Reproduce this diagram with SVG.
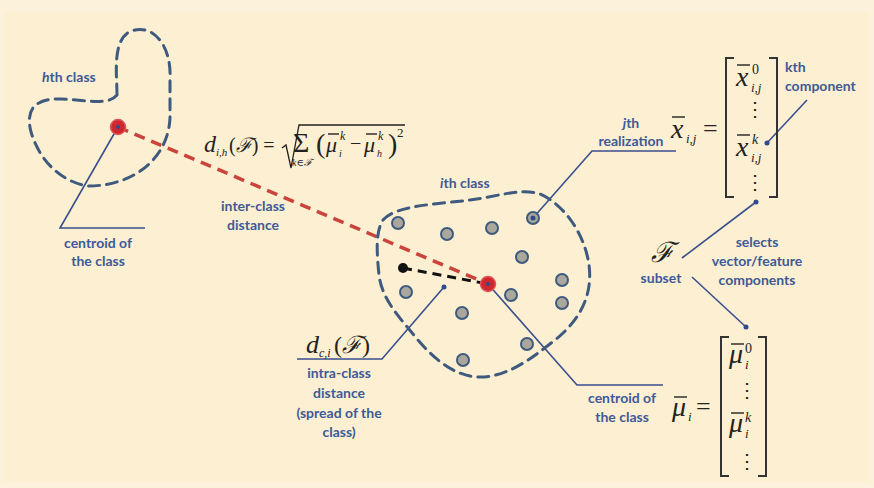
<svg xmlns="http://www.w3.org/2000/svg" width="874" height="488" viewBox="0 0 874 488">
<defs>
<style>
.lbl{font-family:Lato,"Open Sans","Liberation Sans",sans-serif;font-weight:700;font-size:14px;fill:#3d5a98;text-anchor:middle}
.lbll{font-family:Lato,"Open Sans","Liberation Sans",sans-serif;font-weight:700;font-size:14px;fill:#3d5a98}
.m{font-family:'Liberation Serif','DejaVu Serif',serif;fill:#222}
.mi{font-family:'Liberation Serif','DejaVu Serif',serif;font-style:italic;fill:#222}
.cal{font-family:'DejaVu Serif','Liberation Serif',serif;font-style:italic;fill:#222}
.outline{fill:none;stroke:#3e5a7e;stroke-width:3;stroke-dasharray:11 7;stroke-linecap:round}
.lead{fill:none;stroke:#3a4f8e;stroke-width:1.6}
.pt{fill:#aaa89c;stroke:#3e5a7e;stroke-width:2}
.bar{stroke:#222;stroke-width:1.4}
.brk{fill:none;stroke:#333;stroke-width:2}
.dot{fill:#2e4b8e}
</style>
</defs>
<rect x="0" y="0" width="874" height="488" fill="#fcf1da"/>
<rect x="4" y="12" width="864" height="470" fill="#fdefd1"/>

<g id="hth-class">
<path class="outline" d="M117,95 C117,75 112,42 129,32 C150,22 172,42 170,80 L170,118 C168,160 132,186 88,186 C62,182 40,162 31,132 C25,108 36,98 62,99 C86,100 108,106 117,95 Z"/>
<text class="lbll" x="42" y="82" font-size="16"><tspan font-style="italic">h</tspan>th class</text>
</g>

<g id="connectors">
<line x1="118" y1="127" x2="488" y2="284" stroke="#c9443a" stroke-width="3.5" stroke-dasharray="11 7"/>
<line x1="403" y1="268" x2="488" y2="284" stroke="#111" stroke-width="3" stroke-dasharray="9 6"/>
<polyline class="lead" points="118,127 60,228 145,228"/>
<polyline class="lead" points="444,287 382,359 297,359"/>
<polyline class="lead" points="488,284 577,385 663,385"/>
<polyline class="lead" points="533,218 592,151 676,151"/>
<line class="lead" x1="807" y1="100" x2="767" y2="143"/>
<line class="lead" x1="756" y1="202" x2="682" y2="258"/>
<line class="lead" x1="692" y1="277" x2="746" y2="327"/>
<circle class="dot" cx="444" cy="287" r="2.5"/>
<circle class="dot" cx="767" cy="143" r="2.5"/>
<circle class="dot" cx="756" cy="202" r="2.5"/>
<circle class="dot" cx="746" cy="327" r="2.5"/>
</g>

<g id="hth-centroid">
<circle cx="118" cy="127" r="7.5" fill="#d0262d" stroke="#e0555a" stroke-width="1.5"/>
<circle class="dot" cx="118" cy="127" r="2"/>
<text class="lbl" x="98" y="248">centroid of</text>
<text class="lbl" x="98" y="266">the class</text>
</g>

<g id="inter-class">
<text class="lbl" x="253" y="211">inter-class</text>
<text class="lbl" x="253" y="230">distance</text>
<text class="mi" x="204" y="152" font-size="24" font-family="Liberation Serif">d</text>
<text class="mi" x="216" y="156" font-size="11" font-family="Liberation Serif">i,h</text>
<text class="m" x="229" y="152" font-size="20" font-family="Liberation Serif">(<tspan class="cal">ℱ</tspan>) =</text>
<path d="M282,148 L286,145 L291,168 L299,125 L405,125" fill="none" stroke="#222" stroke-width="1.3"/>
<text class="m" x="293" y="152" font-size="28" font-family="Liberation Serif">Σ</text>
<text class="mi" x="292" y="166" font-size="10" font-family="Liberation Serif">k∈<tspan class="cal">ℱ</tspan></text>
<text class="m" x="316" y="153" font-size="28" font-family="Liberation Serif">(</text>
<text class="mi" x="326" y="152" font-size="22" font-family="Liberation Serif">μ</text>
<line class="bar" x1="328" y1="134" x2="339" y2="134"/>
<text class="mi" x="339" y="157" font-size="10" font-family="Liberation Serif">i</text>
<text class="mi" x="340" y="140" font-size="12" font-family="Liberation Serif">k</text>
<text class="m" x="350" y="150" font-size="20" font-family="Liberation Serif">−</text>
<text class="mi" x="364" y="152" font-size="22" font-family="Liberation Serif">μ</text>
<line class="bar" x1="366" y1="134" x2="377" y2="134"/>
<text class="mi" x="377" y="157" font-size="10" font-family="Liberation Serif">h</text>
<text class="mi" x="378" y="140" font-size="12" font-family="Liberation Serif">k</text>
<text class="m" x="388" y="153" font-size="28" font-family="Liberation Serif">)</text>
<text class="m" x="397" y="137" font-size="13" font-family="Liberation Serif">2</text>
</g>

<g id="ith-class">
<path class="outline" d="M383,220 C395,205 440,204 470,200 C500,196 520,188 540,194 C565,205 585,235 589,265 C593,295 580,320 555,340 C530,360 505,378 478,377 C455,376 435,360 418,340 C400,318 382,300 379,275 C377,255 375,232 383,220 Z"/>
<text class="lbll" x="440" y="188" font-size="16"><tspan font-style="italic">i</tspan>th class</text>
<circle class="pt" cx="398" cy="223" r="6"/>
<circle class="pt" cx="447" cy="234" r="6"/>
<circle class="pt" cx="492" cy="228" r="6"/>
<circle class="pt" cx="533" cy="218" r="6"/>
<circle class="dot" cx="533" cy="218" r="2.5"/>
<circle class="pt" cx="522" cy="257" r="6"/>
<circle class="pt" cx="562" cy="280" r="6"/>
<circle class="pt" cx="562" cy="303" r="6"/>
<circle class="pt" cx="511" cy="295" r="6"/>
<circle class="pt" cx="406" cy="292" r="6"/>
<circle class="pt" cx="462" cy="313" r="6"/>
<circle class="pt" cx="527" cy="344" r="6"/>
<circle class="pt" cx="463" cy="360" r="6"/>
<circle cx="403" cy="268" r="5" fill="#111"/>
<circle cx="488" cy="284" r="7.5" fill="#d0262d" stroke="#e0555a" stroke-width="1.5"/>
<circle class="dot" cx="488" cy="284" r="2"/>
</g>

<g id="intra-class">
<text class="mi" x="306" y="353" font-size="26" font-family="Liberation Serif">d</text>
<text class="mi" x="319" y="357" font-size="12" font-family="Liberation Serif">c,i</text>
<text class="m" x="334" y="353" font-size="24" font-family="Liberation Serif">(<tspan class="cal">ℱ</tspan>)</text>
<text class="lbl" x="339" y="378">intra-class</text>
<text class="lbl" x="339" y="398">distance</text>
<text class="lbl" x="339" y="418">(spread of the</text>
<text class="lbl" x="339" y="437">class)</text>
</g>

<g id="ith-centroid">
<text class="lbl" x="622" y="403">centroid of</text>
<text class="lbl" x="622" y="422">the class</text>
</g>

<g id="realization">
<text class="lbl" x="631" y="128"><tspan font-style="italic">j</tspan>th</text>
<text class="lbl" x="631" y="146">realization</text>
</g>

<g id="x-vector">
<text class="mi" x="671" y="138" font-size="28" font-family="Liberation Serif">x</text>
<line class="bar" x1="672" y1="117" x2="685" y2="117"/>
<text class="mi" x="686" y="143" font-size="13" font-family="Liberation Serif">i,j</text>
<text class="m" x="703" y="137" font-size="26" font-family="Liberation Serif">=</text>
<path class="brk" d="M734,58 L726,58 L726,197 L734,197"/>
<path class="brk" d="M769,58 L777,58 L777,197 L769,197"/>
<text class="mi" x="736" y="86" font-size="28" font-family="Liberation Serif">x</text>
<line class="bar" x1="737" y1="65" x2="750" y2="65"/>
<text class="m" x="752" y="74" font-size="14" font-family="Liberation Serif">0</text>
<text class="mi" x="751" y="92" font-size="13" font-family="Liberation Serif">i,j</text>
<text class="m" x="745" y="116" font-size="20" font-family="DejaVu Serif">⋮</text>
<text class="mi" x="736" y="156" font-size="28" font-family="Liberation Serif">x</text>
<line class="bar" x1="737" y1="135" x2="750" y2="135"/>
<text class="mi" x="752" y="144" font-size="14" font-family="Liberation Serif">k</text>
<text class="mi" x="751" y="162" font-size="13" font-family="Liberation Serif">i,j</text>
<text class="m" x="745" y="189" font-size="20" font-family="DejaVu Serif">⋮</text>
<text class="lbll" x="785" y="72">kth</text>
<text class="lbll" x="785" y="91">component</text>
</g>

<g id="subset">
<text class="cal" x="651" y="262" font-size="28">ℱ</text>
<text class="lbl" x="661" y="283">subset</text>
<text class="lbl" x="757" y="247">selects</text>
<text class="lbl" x="757" y="266">vector/feature</text>
<text class="lbl" x="757" y="285">components</text>
</g>

<g id="mu-vector">
<text class="mi" x="672" y="416" font-size="28" font-family="Liberation Serif">μ</text>
<line class="bar" x1="674" y1="397" x2="687" y2="397"/>
<text class="mi" x="688" y="421" font-size="13" font-family="Liberation Serif">i</text>
<text class="m" x="696" y="415" font-size="26" font-family="Liberation Serif">=</text>
<path class="brk" d="M729,337 L721,337 L721,476 L729,476"/>
<path class="brk" d="M758,337 L766,337 L766,476 L758,476"/>
<text class="mi" x="729" y="363" font-size="28" font-family="Liberation Serif">μ</text>
<line class="bar" x1="731" y1="344" x2="744" y2="344"/>
<text class="m" x="745" y="353" font-size="14" font-family="Liberation Serif">0</text>
<text class="mi" x="745" y="369" font-size="13" font-family="Liberation Serif">i</text>
<text class="m" x="737" y="397" font-size="20" font-family="DejaVu Serif">⋮</text>
<text class="mi" x="729" y="432" font-size="28" font-family="Liberation Serif">μ</text>
<line class="bar" x1="731" y1="413" x2="744" y2="413"/>
<text class="mi" x="745" y="422" font-size="14" font-family="Liberation Serif">k</text>
<text class="mi" x="745" y="438" font-size="13" font-family="Liberation Serif">i</text>
<text class="m" x="737" y="468" font-size="20" font-family="DejaVu Serif">⋮</text>
</g>
</svg>
